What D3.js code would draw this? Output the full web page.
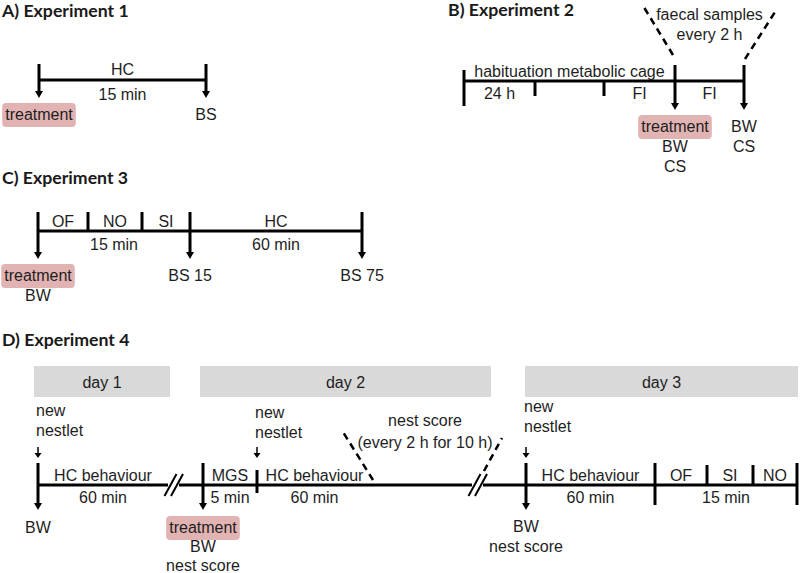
<!DOCTYPE html>
<html><head><meta charset="utf-8">
<script src="https://cdn.jsdelivr.net/npm/d3@7"></script>
<style>body{margin:0;background:#fff}</style></head>
<body><svg id="c" width="800" height="573"></svg>
<script>
// ================= DATA =================
const titles = ["A) Experiment 1", "B) Experiment 2", "C) Experiment 3", "D) Experiment 4"];

// Experiment 1 (minutes)
const exp1Anchors = [0, 15];
const exp1Ticks = [{t: 0, kind: "arrow"}, {t: 15, kind: "arrow"}];
const exp1Phases = [{from: 0, to: 15, above: "HC", below: "15 min"}];
const exp1Events = [{t: 0, text: ["treatment"], treatment: true}, {t: 15, text: ["BS"]}];

// Experiment 2 (steps)
const exp2Anchors = [0, 1, 2, 3, 4];
const exp2Ticks = [{t: 0, kind: "start"}, {t: 1, kind: "down"}, {t: 2, kind: "down"}, {t: 3, kind: "arrow"}, {t: 4, kind: "arrow"}];
const exp2Phases = [
  {from: 0, to: 3, above: "habituation metabolic cage"},
  {from: 0, to: 1, below: "24 h"},
  {from: 2, to: 3, below: "FI"},
  {from: 3, to: 4, below: "FI"}
];
const exp2Events = [{t: 3, text: ["treatment", "BW", "CS"], treatment: true}, {t: 4, text: ["BW", "CS"]}];
const exp2Note = ["faecal samples", "every 2 h"];

// Experiment 3 (minutes)
const exp3Anchors = [0, 5, 10, 15, 75];
const exp3Ticks = [{t: 0, kind: "arrow"}, {t: 5, kind: "up"}, {t: 10, kind: "up"}, {t: 15, kind: "arrow"}, {t: 75, kind: "arrow"}];
const exp3Phases = [
  {from: 0, to: 5, above: "OF"}, {from: 5, to: 10, above: "NO"}, {from: 10, to: 15, above: "SI"},
  {from: 0, to: 15, below: "15 min"},
  {from: 15, to: 75, above: "HC", below: "60 min"}
];
const exp3Events = [{t: 0, text: ["treatment", "BW"], treatment: true}, {t: 15, text: ["BS 15"]}, {t: 75, text: ["BS 75"]}];

// Experiment 4
const exp4Anchors = ["d1", "brk1", "treat", "nest2", "nestScore", "brk2", "d3", "hcEnd", "ofEnd", "siEnd", "noEnd"];
const exp4Days = [{label: "day 1", from: "d1", to: "brk1"}, {label: "day 2", from: "treat", to: "brk2"}, {label: "day 3", from: "d3", to: "noEnd"}];
const exp4Ticks = [
  {t: "d1", kind: "arrow"}, {t: "treat", kind: "arrow"}, {t: "nest2", kind: "cross"},
  {t: "d3", kind: "arrow"}, {t: "hcEnd", kind: "long"}, {t: "ofEnd", kind: "up"}, {t: "siEnd", kind: "up"}, {t: "noEnd", kind: "long"}
];
const exp4Phases = [
  {from: "d1", to: "brk1", above: "HC behaviour", below: "60 min"},
  {from: "treat", to: "nest2", above: "MGS", below: "5 min"},
  {from: "nest2", to: "nestScore", above: "HC behaviour", below: "60 min"},
  {from: "d3", to: "hcEnd", above: "HC behaviour", below: "60 min"},
  {from: "hcEnd", to: "ofEnd", above: "OF"}, {from: "ofEnd", to: "siEnd", above: "SI"}, {from: "siEnd", to: "noEnd", above: "NO"},
  {from: "hcEnd", to: "noEnd", below: "15 min"}
];
const exp4Events = [
  {t: "d1", text: ["BW"]},
  {t: "treat", text: ["treatment", "BW", "nest score"], treatment: true},
  {t: "d3", text: ["BW", "nest score"]}
];
const exp4Nestlets = ["d1", "nest2", "d3"];
const exp4NestletText = ["new", "nestlet"];
const exp4Breaks = ["brk1", "brk2"];
const exp4Note = ["nest score", "(every 2 h for 10 h)"];

// ================= LAYOUT =================
const svg = d3.select("#c");
const TXT = "#1e1e1e";
const LAB = "'Liberation Sans', Arial, sans-serif";
const TITLEF = "Lato, 'Open Sans', sans-serif";
const TREAT_FILL = "#e2b3b3";

function title(txt, x, y) {
  svg.append("text").attr("x", x).attr("y", y).text(txt)
    .attr("font-family", TITLEF).attr("font-weight", 700).attr("font-size", 17.7).attr("fill", "#1a1a1a");
}
function label(g, txt, x, y, anchor) {
  return g.append("text").attr("x", x).attr("y", y).text(txt)
    .attr("text-anchor", anchor || "middle").attr("font-family", LAB).attr("font-size", 16).attr("fill", TXT);
}
function vtick(g, x, y1, y2, arrow, w) {
  w = w || 3;
  const head = arrow ? 7 : 0;
  g.append("line").attr("x1", x).attr("x2", x).attr("y1", y1).attr("y2", y2 - head)
    .attr("stroke", "#000").attr("stroke-width", w);
  if (arrow) {
    g.append("path").attr("d", d3.line()([[x - 4, y2 - head], [x + 4, y2 - head], [x, y2]]) + "Z").attr("fill", "#000");
  }
}
function smallArrow(g, x, y1, y2) {
  g.append("line").attr("x1", x).attr("x2", x).attr("y1", y1).attr("y2", y2 - 5)
    .attr("stroke", "#000").attr("stroke-width", 1.5);
  g.append("path").attr("d", d3.line()([[x - 3.5, y2 - 5], [x + 3.5, y2 - 5], [x, y2]]) + "Z").attr("fill", "#000");
}
function dashed(g, x1, y1, x2, y2) {
  g.append("line").attr("x1", x1).attr("y1", y1).attr("x2", x2).attr("y2", y2)
    .attr("stroke", "#000").attr("stroke-width", 2.5).attr("stroke-dasharray", "7,5");
}
function events(g, x, list, y0, step) {
  list.forEach(ev => {
    const cx = x(ev.t);
    ev.text.forEach((t, i) => {
      const y = y0 + i * step;
      if (i === 0 && ev.treatment) {
        const tmp = label(g, t, cx, y);
        const w = tmp.node().getComputedTextLength();
        g.insert("rect", "text").attr("x", cx - w / 2 - 3).attr("y", y - 17).attr("width", w + 6).attr("height", 24)
          .attr("rx", 4).attr("fill", TREAT_FILL);
      } else label(g, t, cx, y);
    });
  });
}
function phases(g, x, list, yAbove, yBelow) {
  list.forEach(p => {
    const cx = (x(p.from) + x(p.to)) / 2;
    if (p.above) label(g, p.above, cx, yAbove);
    if (p.below) label(g, p.below, cx, yBelow);
  });
}
function hline(g, x1, x2, y) {
  g.append("line").attr("x1", x1).attr("x2", x2).attr("y1", y).attr("y2", y).attr("stroke", "#000").attr("stroke-width", 3);
}

// ---------- Panel A ----------
{
  title(titles[0], 2, 17);
  const g = svg.append("g");
  const x = d3.scaleLinear().domain(exp1Anchors).range([39, 206]);
  const Y = 80;
  hline(g, x(exp1Anchors[0]), x(exp1Anchors[exp1Anchors.length - 1]), Y);
  exp1Ticks.forEach(t => vtick(g, x(t.t), Y - 16, Y + 18, true));
  phases(g, x, exp1Phases, Y - 5, Y + 20);
  events(g, x, exp1Events, 120, 20);
}

// ---------- Panel B ----------
{
  title(titles[1], 448, 16);
  const g = svg.append("g");
  const x = d3.scaleLinear().domain(exp2Anchors).range([464, 535, 604, 675, 744]);
  const Y = 81;
  hline(g, x(0), x(4), Y);
  const geo = {start: [Y - 11, Y + 25, false], down: [Y, Y + 15, false], arrow: [Y - 16, Y + 29, true]};
  exp2Ticks.forEach(t => { const k = geo[t.kind]; vtick(g, x(t.t), k[0], k[1], k[2]); });
  phases(g, x, exp2Phases, Y - 4, Y + 18);
  events(g, x, exp2Events, 132, 20);
  // faecal samples note with funnel
  const cx = (x(3) + x(4)) / 2;
  label(g, exp2Note[0], cx, 20);
  label(g, exp2Note[1], cx, 40);
  dashed(g, x(3) - 2, Y - 26, x(3) - 33, 4);
  dashed(g, x(4) + 1, Y - 22, x(4) + 31, 12);
}

// ---------- Panel C ----------
{
  title(titles[2], 2, 184);
  const g = svg.append("g");
  const x = d3.scaleLinear().domain(exp3Anchors).range([38, 88, 142, 190, 362]);
  const Y = 231;
  hline(g, x(0), x(75), Y);
  const geo = {arrow: [Y - 19, Y + 28, true], up: [Y - 19, Y, false]};
  exp3Ticks.forEach(t => { const k = geo[t.kind]; vtick(g, x(t.t), k[0], k[1], k[2]); });
  phases(g, x, exp3Phases, Y - 4, Y + 19);
  events(g, x, exp3Events, 281, 20);
}

// ---------- Panel D ----------
{
  title(titles[3], 2, 346);
  const g = svg.append("g");
  const x = d3.scaleOrdinal().domain(exp4Anchors).range([38, 168, 203, 257, 372, 472, 526, 655, 707, 753, 797]);
  const Y = 485;
  // day bands
  const pads = [[-4, 2], [-3, 19], [-1, 1]];
  exp4Days.forEach((d, i) => {
    const x1 = x(d.from) + pads[i][0], x2 = x(d.to) + pads[i][1];
    g.append("rect").attr("x", x1).attr("y", 366).attr("width", x2 - x1).attr("height", 31).attr("fill", "#d9d9d9");
    label(g, d.label, (x1 + x2) / 2, 388);
  });
  // main line with two breaks
  hline(g, x("d1"), x("brk1"), Y);
  hline(g, x("brk1") + 11, x("brk2"), Y);
  hline(g, x("brk2") + 11, x("noEnd"), Y);
  exp4Breaks.forEach(b => {
    const bx = x(b);
    [2.5, 9].forEach(off => {
      g.append("line").attr("x1", bx + off - 6).attr("y1", Y + 11).attr("x2", bx + off + 6).attr("y2", Y - 11)
        .attr("stroke", "#000").attr("stroke-width", 2);
    });
  });
  const geo = {arrow: [Y - 22, Y + 25, true], cross: [Y - 15, Y + 8, false], long: [Y - 22, Y + 20, false], up: [Y - 20, Y, false]};
  exp4Ticks.forEach(t => { const k = geo[t.kind]; vtick(g, x(t.t), k[0], k[1], k[2]); });
  phases(g, x, exp4Phases, Y - 4, Y + 18);
  events(g, x, exp4Events.filter(e => e.t !== "d3"), 533, 19);
  events(g, x, exp4Events.filter(e => e.t === "d3"), 532, 20);
  // new nestlet markers (baseline offsets per day as drawn)
  const nestletY = [416, 418, 412];
  exp4Nestlets.forEach((n, i) => {
    label(g, exp4NestletText[0], x(n) - 2, nestletY[i], "start");
    label(g, exp4NestletText[1], x(n) - 2, nestletY[i] + 20, "start");
    smallArrow(g, x(n), 447, 458);
  });
  // nest score note
  const cx = (x("nestScore") + x("brk2")) / 2 + 3;
  label(g, exp4Note[0], cx, 426);
  label(g, exp4Note[1], cx, 448);
  dashed(g, x("nestScore") + 1, Y - 5, x("nestScore") - 29, 432);
  dashed(g, x("brk2") + 12, Y - 14, x("brk2") + 30, 438);
}
</script></body></html>
